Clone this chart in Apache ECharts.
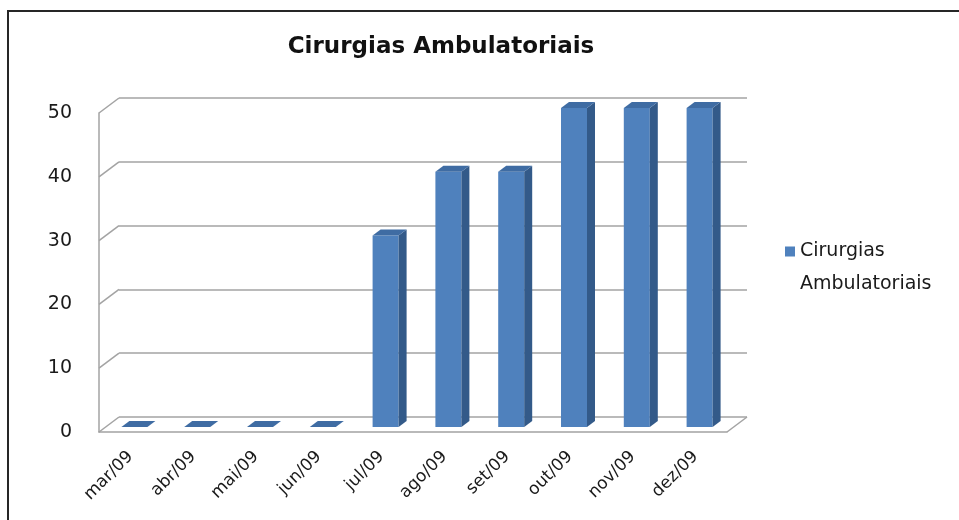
<!DOCTYPE html>
<html>
<head>
<meta charset="utf-8">
<script src="https://cdn.jsdelivr.net/npm/echarts@6/dist/echarts.min.js"></script>
<style>
  html, body { margin: 0; padding: 0; background: #fff; }
  #chart { width: 959px; height: 520px; }
</style>
</head>
<body>
<div id="chart"></div>
<script>
const months = ['mar/09', 'abr/09', 'mai/09', 'jun/09', 'jul/09', 'ago/09', 'set/09', 'out/09', 'nov/09', 'dez/09'];
const cirurgias = [0, 0, 0, 0, 30, 40, 40, 50, 50, 50];
const yTicks = [0, 10, 20, 30, 40, 50];

const FONT = 'DejaVu Sans';
const GRID_COLOR = '#a3a3a3';
// depth of the fake 3d box (front plane -> back wall)
const DEPTH_X = 20, DEPTH_Y = -15;

const chart = echarts.init(document.getElementById('chart'));

// bars with a side and a top face, placed a bit behind the front plane
function renderBar(params, api) {
  const i = api.value(0), v = api.value(1);
  const top = api.coord([i, v]);
  const base = api.coord([i, 0]);
  const x0 = top[0] - 9, x1 = top[0] + 17;
  const yb = base[1] - 5, yt = top[1] - 5;
  const dx = 8, dy = -6;
  const children = [];
  if (yb - yt > 0.5) {
    children.push({
      type: 'rect',
      shape: { x: x0, y: yt, width: x1 - x0, height: yb - yt },
      style: { fill: '#4f81bd' }
    });
    children.push({
      type: 'polygon',
      shape: { points: [[x1, yb], [x1, yt], [x1 + dx, yt + dy], [x1 + dx, yb + dy]] },
      style: { fill: '#335a89' }
    });
  }
  children.push({
    type: 'polygon',
    shape: { points: [[x0, yt], [x1, yt], [x1 + dx, yt + dy], [x0 + dx, yt + dy]] },
    style: { fill: '#3f6ca3' }
  });
  return { type: 'group', children: children };
}

// diagonal edges joining the front plane to the back wall
function renderFrame(params, api) {
  const cs = params.coordSys;
  const v = api.value(1);
  const y = api.coord([0, v])[1];
  const style = { stroke: GRID_COLOR, lineWidth: 1.5 };
  const children = [{
    type: 'line',
    shape: { x1: cs.x, y1: y, x2: cs.x + DEPTH_X, y2: y + DEPTH_Y },
    style: style
  }];
  if (v === 0) {
    children.push({
      type: 'line',
      shape: { x1: cs.x + cs.width, y1: y, x2: cs.x + cs.width + DEPTH_X, y2: y + DEPTH_Y },
      style: style
    });
  }
  return { type: 'group', children: children };
}

const option = {
  backgroundColor: '#fff',
  animation: false,
  title: {
    text: 'Cirurgias Ambulatoriais',
    left: 436,
    top: 31,
    textAlign: 'center',
    textStyle: { fontFamily: FONT, fontWeight: 'bold', fontSize: 23, color: '#111' }
  },
  legend: {
    data: ['Cirurgias Ambulatoriais'],
    left: 785,
    top: 235,
    padding: 0,
    itemWidth: 10,
    itemHeight: 66,
    icon: 'path://M0,11.5H10V21.5H0Z M0,0h0.05v0.05h-0.05Z M0,66h0.05v-0.05h-0.05Z',
    formatter: () => 'Cirurgias\nAmbulatoriais',
    textStyle: { fontFamily: FONT, fontSize: 19, color: '#1a1a1a', lineHeight: 33 }
  },
  graphic: [
    { type: 'line', shape: { x1: 7, y1: 11, x2: 959, y2: 11 }, style: { stroke: '#262626', lineWidth: 2 } },
    { type: 'line', shape: { x1: 8, y1: 10, x2: 8, y2: 520 }, style: { stroke: '#262626', lineWidth: 2 } }
  ],
  grid: [
    // front plane: labels, left wall edge and front floor edge
    { left: 99, right: 232, top: 113, bottom: 88 },
    // back wall: gridlines
    { left: 99 + DEPTH_X, right: 232 - DEPTH_X, top: 113 + DEPTH_Y, bottom: 88 - DEPTH_Y }
  ],
  xAxis: [
    {
      type: 'category',
      gridIndex: 0,
      data: months,
      axisLine: { lineStyle: { color: GRID_COLOR, width: 1.5 } },
      axisTick: { show: false },
      axisLabel: {
        rotate: 45,
        margin: 22,
        interval: 0,
        fontFamily: FONT,
        fontSize: 17,
        color: '#1a1a1a'
      }
    },
    {
      type: 'category',
      gridIndex: 1,
      data: months,
      show: false
    }
  ],
  yAxis: [
    {
      type: 'value',
      gridIndex: 0,
      min: 0,
      max: 50,
      interval: 10,
      axisLine: { show: true, lineStyle: { color: GRID_COLOR, width: 1.5 } },
      axisTick: { show: false },
      splitLine: { show: false },
      axisLabel: { margin: 27, fontFamily: FONT, fontSize: 19, color: '#1a1a1a' }
    },
    {
      type: 'value',
      gridIndex: 1,
      min: 0,
      max: 50,
      interval: 10,
      axisLine: { show: false },
      axisTick: { show: false },
      axisLabel: { show: false },
      splitLine: { show: true, lineStyle: { color: GRID_COLOR, width: 1.5 } }
    }
  ],
  series: [
    {
      name: 'frame',
      type: 'custom',
      xAxisIndex: 0,
      yAxisIndex: 0,
      silent: true,
      z: 1,
      renderItem: renderFrame,
      data: yTicks.map(v => [0, v])
    },
    {
      name: 'Cirurgias Ambulatoriais',
      type: 'custom',
      xAxisIndex: 0,
      yAxisIndex: 0,
      z: 3,
      itemStyle: { color: '#4f81bd' },
      renderItem: renderBar,
      encode: { x: 0, y: 1 },
      data: cirurgias.map((v, i) => [i, v])
    }
  ]
};

chart.setOption(option);
</script>
</body>
</html>
